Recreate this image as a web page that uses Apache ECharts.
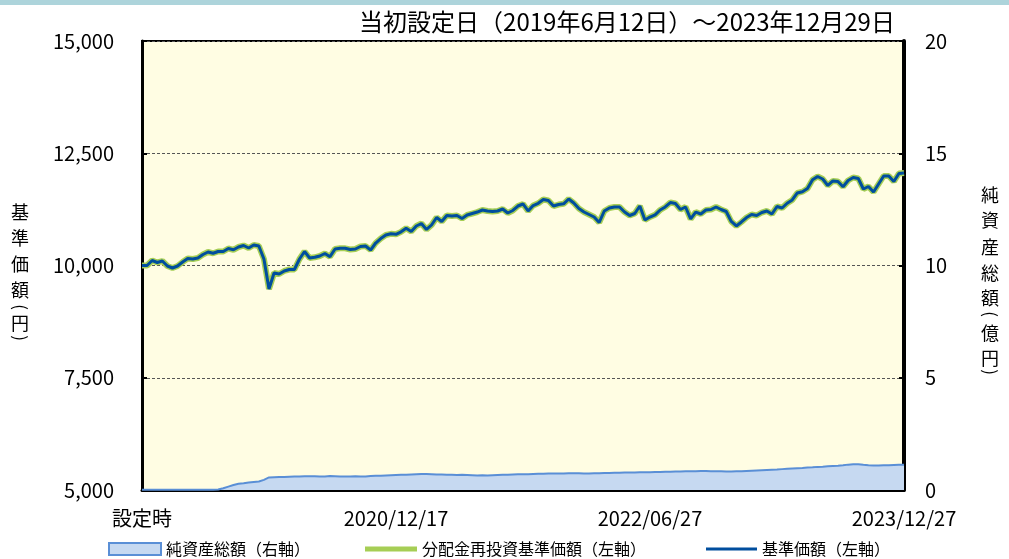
<!DOCTYPE html>
<html>
<head>
<meta charset="utf-8">
<title>基準価額・純資産総額の推移</title>
<script src="https://cdn.jsdelivr.net/npm/echarts@6/dist/echarts.min.js"></script>
<style>
    html, body { margin: 0; padding: 0; background: #fff; }
    #myChart { width: 1009px; height: 559px; }
</style>
</head>
<body>
<div id="myChart"></div>
<script>
var FONT = "'Noto Sans CJK JP', 'Noto Sans', sans-serif";

var titleText = '当初設定日（2019年6月12日）～2023年12月29日';
var beginDate = '2019/06/12';
var endDate = '2023/12/29';

// x axis tick labels and the point index they sit on
var tickLabels = ['設定時', '2020/12/17', '2022/06/27', '2023/12/27'];
var tickIndex = [0, 50, 100, 150];

var seriesNames = ['純資産総額（右軸）', '分配金再投資基準価額（左軸）', '基準価額（左軸）'];

// vertical axis names, one glyph per row
var leftName = ['基', '準', '価', '額', '(', '円', ')'];
var rightName = ['純', '資', '産', '総', '額', '(', '億', '円', ')'];

// 基準価額 (円)
var navPrice = [
    10000, 10000, 10111, 10067, 10100, 9989, 9944, 9989, 10078, 10156,
    10145, 10167, 10245, 10301, 10272, 10312, 10312, 10379, 10350, 10412,
    10445, 10390, 10457, 10434, 10145, 9477, 9833, 9811, 9878, 9911,
    9911, 10145, 10312, 10167, 10183, 10212, 10267, 10196, 10367, 10383,
    10383, 10356, 10367, 10423, 10434, 10345, 10501, 10601, 10679, 10706,
    10695, 10750, 10828, 10757, 10880, 10935, 10802, 10902, 11069, 10980,
    11114, 11102, 11114, 11047, 11125, 11158, 11191, 11236, 11214, 11203,
    11214, 11258, 11169, 11225, 11325, 11370, 11214, 11336, 11385, 11470,
    11448, 11325, 11358, 11374, 11481, 11392, 11269, 11191, 11136, 11080,
    10958, 11214, 11281, 11303, 11303, 11191, 11114, 11158, 11325, 11013,
    11080, 11129, 11236, 11303, 11403, 11381, 11247, 11303, 11036, 11191,
    11147, 11236, 11247, 11303, 11247, 11203, 10980, 10880, 10969, 11069,
    11136, 11114, 11180, 11214, 11147, 11314, 11281, 11387, 11459, 11615,
    11644, 11715, 11909, 11982, 11927, 11782, 11882, 11871, 11755, 11893,
    11960, 11938, 11704, 11759, 11637, 11815, 11993, 11993, 11871, 12049,
    12060
];

// 分配金再投資基準価額 (円): no distributions paid, same as navPrice
var reinvestPrice = navPrice;

// 純資産総額 (億円)
var netAssets = [
    0.01, 0.01, 0.01, 0.01, 0.01, 0.01, 0.01, 0.01, 0.01, 0.01,
    0.01, 0.01, 0.01, 0.01, 0.01,
    0.02, 0.08, 0.15, 0.22, 0.28, 0.30, 0.33, 0.36, 0.38, 0.45, 0.56, 0.57,
    0.58, 0.58, 0.59, 0.60, 0.60, 0.61, 0.61, 0.61, 0.60, 0.60,
    0.62, 0.61, 0.60, 0.60, 0.60, 0.61, 0.60, 0.60, 0.62, 0.63,
    0.64, 0.65, 0.66, 0.67, 0.68, 0.68, 0.69, 0.70, 0.71, 0.71,
    0.70, 0.69, 0.69, 0.68, 0.68, 0.67, 0.68, 0.67, 0.66, 0.65,
    0.66, 0.65, 0.66, 0.67, 0.68, 0.68, 0.69, 0.70, 0.70, 0.70,
    0.71, 0.72, 0.72, 0.73, 0.73, 0.74, 0.74, 0.75, 0.75, 0.75,
    0.74, 0.74, 0.75, 0.75, 0.76, 0.76, 0.77, 0.77, 0.78, 0.78,
    0.78, 0.79, 0.79, 0.79, 0.80, 0.80, 0.81, 0.81, 0.82, 0.82,
    0.83, 0.84, 0.84, 0.85, 0.85, 0.84, 0.83, 0.83, 0.82, 0.82,
    0.83, 0.84, 0.85, 0.86, 0.87, 0.88, 0.89, 0.90, 0.91, 0.93,
    0.95, 0.96, 0.97, 0.98, 1.00, 1.01, 1.03, 1.04, 1.06, 1.07,
    1.08, 1.10, 1.13, 1.15, 1.15, 1.12, 1.10, 1.09, 1.09, 1.10,
    1.10, 1.11, 1.12, 1.12
];

function build_dates(begin, end, n) {
    var t0 = new Date(begin).getTime();
    var t1 = new Date(end).getTime();
    var dates = [];
    for (var i = 0; i < n; i++) {
        var d = new Date(t0 + (t1 - t0) * i / (n - 1));
        var _month = d.getMonth() + 1 < 10 ? '0' + (d.getMonth() + 1) : '' + (d.getMonth() + 1);
        var _day = d.getDate() < 10 ? '0' + d.getDate() : '' + d.getDate();
        dates.push(d.getFullYear() + '/' + _month + '/' + _day);
    }
    return dates;
}

function is_tick(index) {
    return tickIndex.indexOf(index) >= 0;
}

// vertical text: CJK glyphs upright, brackets turned a quarter clockwise
function vertical_name(chars, x, ys) {
    var items = [];
    for (var i = 0; i < chars.length; i++) {
        var isBracket = chars[i] === '(' || chars[i] === ')';
        items.push({
            type: 'text',
            x: x,
            y: ys[i],
            rotation: isBracket ? -Math.PI / 2 : 0,
            style: {
                text: chars[i],
                align: 'center',
                verticalAlign: 'middle',
                fill: '#000',
                fontSize: isBracket ? 17 : 18,
                fontFamily: FONT
            }
        });
    }
    return items;
}

function create_image() {
    var myChart = echarts.init(document.getElementById('myChart'));
    var categories = build_dates(beginDate, endDate, navPrice.length);
    var graphics = [{
        type: 'rect',
        shape: { x: 0, y: 0, width: 1009, height: 5 },
        style: { fill: '#ADD4DB' }
    }];
    graphics = graphics.concat(vertical_name(leftName, 20, [212, 238, 264, 290, 307, 323, 338]));
    graphics = graphics.concat(vertical_name(rightName, 990, [195, 220, 247, 273, 298, 314, 333, 358, 372]));

    var option = {
        animation: false,
        textStyle: { fontFamily: FONT },
        title: {
            text: titleText,
            left: 622,
            top: 5,
            textAlign: 'center',
            textStyle: { fontSize: 24, fontWeight: 'normal', color: '#000', fontFamily: FONT }
        },
        grid: {
            left: 142,
            right: 105,
            top: 41,
            bottom: 69,
            show: true,
            backgroundColor: '#FFFDE3',
            borderColor: '#000',
            borderWidth: 2
        },
        legend: [
            {
                data: [{ name: seriesNames[0], itemStyle: { color: '#C6D9F1', borderColor: '#5A8FD6', borderWidth: 2 } }],
                left: 108, top: 541, padding: 0, icon: 'rect', itemWidth: 52, itemHeight: 12,
                textStyle: { fontSize: 16, color: '#000', fontFamily: FONT }
            },
            {
                data: [{ name: seriesNames[1], itemStyle: { color: '#A6CE55', borderWidth: 0 } }],
                left: 365, top: 541, padding: 0, icon: 'rect', itemWidth: 52, itemHeight: 5,
                textStyle: { fontSize: 16, color: '#000', fontFamily: FONT }
            },
            {
                data: [{ name: seriesNames[2], itemStyle: { color: '#004E9E', borderWidth: 0 } }],
                left: 706, top: 541, padding: 0, icon: 'rect', itemWidth: 51, itemHeight: 3,
                textStyle: { fontSize: 16, color: '#000', fontFamily: FONT }
            }
        ],
        xAxis: {
            type: 'category',
            data: categories,
            boundaryGap: false,
            axisLine: { lineStyle: { color: '#000', width: 3 } },
            axisTick: { inside: true, length: 7, interval: is_tick, lineStyle: { color: '#000', width: 2 } },
            axisLabel: {
                interval: is_tick,
                margin: 18,
                fontSize: 20,
                color: '#000',
                fontFamily: FONT,
                formatter: function (value, index) {
                    return tickLabels[tickIndex.indexOf(index)];
                }
            },
            splitLine: { show: false }
        },
        yAxis: [
            {
                type: 'value',
                min: 5000,
                max: 15000,
                interval: 2500,
                axisLine: { show: true, lineStyle: { color: '#000', width: 3 } },
                axisTick: { show: true, inside: true, length: 5, lineStyle: { color: '#000', width: 2 } },
                axisLabel: {
                    margin: 28,
                    fontSize: 20,
                    color: '#000',
                    fontFamily: FONT,
                    formatter: function (v) { return v.toLocaleString('en-US'); }
                },
                splitLine: { lineStyle: { type: [3, 2], color: '#555', width: 1 } }
            },
            {
                type: 'value',
                position: 'right',
                min: 0,
                max: 20,
                interval: 5,
                axisLine: { show: true, lineStyle: { color: '#000', width: 4 } },
                axisTick: { show: true, inside: true, length: 5, lineStyle: { color: '#000', width: 2 } },
                axisLabel: { margin: 21, fontSize: 20, color: '#000', fontFamily: FONT },
                splitLine: { show: false }
            }
        ],
        graphic: graphics,
        series: [
            {
                name: seriesNames[0],
                type: 'line',
                yAxisIndex: 1,
                data: netAssets,
                symbol: 'none',
                lineStyle: { color: '#5A8FD6', width: 2 },
                itemStyle: { color: '#5A8FD6' },
                areaStyle: { color: '#C6D9F1', opacity: 1 }
            },
            {
                name: seriesNames[1],
                type: 'line',
                yAxisIndex: 0,
                data: reinvestPrice,
                symbol: 'none',
                lineStyle: { color: '#A6CE55', width: 6 },
                itemStyle: { color: '#A6CE55' }
            },
            {
                name: seriesNames[2],
                type: 'line',
                yAxisIndex: 0,
                data: navPrice,
                symbol: 'none',
                lineStyle: { color: '#004E9E', width: 3 },
                itemStyle: { color: '#004E9E' }
            }
        ]
    };
    myChart.setOption(option);
}

create_image();
</script>
</body>
</html>
